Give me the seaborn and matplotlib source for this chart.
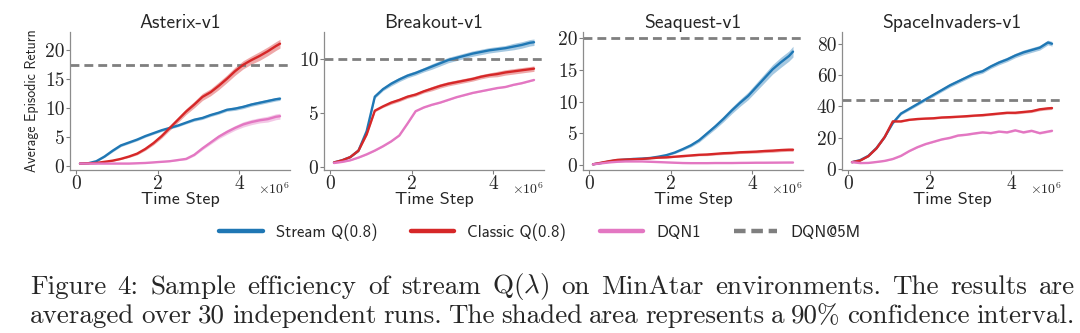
import numpy as np
import pandas as pd
import matplotlib
matplotlib.use("Agg")
import matplotlib.pyplot as plt
import seaborn as sns
from matplotlib.lines import Line2D

# ---------------- data (x in millions of time steps) ----------------
steps = [0.1, 0.3, 0.5, 0.7, 0.9, 1.1, 1.3, 1.5, 1.7, 1.9, 2.1, 2.3, 2.5,
         2.7, 2.9, 3.1, 3.3, 3.5, 3.7, 3.9, 4.1, 4.3, 4.5, 4.7, 4.9, 5.0]

envs = ["Asterix-v1", "Breakout-v1", "Seaquest-v1", "SpaceInvaders-v1"]
methods = ["Stream Q(0.8)", "Classic Q(0.8)", "DQN1"]
dqn_at_5m = [17.3, 10.0, 20.0, 44.0]

asterix_stream = [0.5, 0.55, 0.9, 1.7, 2.7, 3.6, 4.1, 4.6, 5.2, 5.7, 6.2, 6.6, 7.0,
                  7.5, 8.0, 8.3, 8.8, 9.2, 9.7, 9.9, 10.2, 10.6, 10.9, 11.2, 11.5, 11.6]
asterix_classic = [0.5, 0.55, 0.6, 0.8, 1.0, 1.3, 1.7, 2.2, 3.0, 4.0, 5.2, 6.6, 8.0,
                   9.4, 10.6, 11.9, 12.7, 13.8, 15.0, 16.3, 17.4, 18.2, 18.9, 19.7, 20.6, 21.0]
asterix_dqn = [0.5, 0.5, 0.5, 0.5, 0.5, 0.5, 0.5, 0.55, 0.6, 0.7, 0.8, 0.9, 1.1,
               1.3, 2.0, 3.1, 4.1, 5.1, 5.9, 6.6, 7.2, 7.6, 7.9, 8.1, 8.5, 8.6]
asterix_stream_ci = [0.05, 0.05, 0.1, 0.15, 0.2, 0.2, 0.2, 0.2, 0.2, 0.2, 0.2, 0.2, 0.2,
                     0.2, 0.25, 0.25, 0.25, 0.25, 0.25, 0.3, 0.3, 0.3, 0.3, 0.3, 0.3, 0.3]
asterix_classic_ci = [0.05, 0.05, 0.05, 0.1, 0.1, 0.1, 0.15, 0.2, 0.25, 0.3, 0.35, 0.4, 0.45,
                      0.5, 0.55, 0.6, 0.6, 0.65, 0.65, 0.7, 0.7, 0.7, 0.75, 0.75, 0.75, 0.75]
asterix_dqn_ci = [0.05, 0.05, 0.05, 0.05, 0.05, 0.05, 0.05, 0.05, 0.05, 0.05, 0.05, 0.05, 0.1,
                  0.15, 0.2, 0.25, 0.3, 0.35, 0.4, 0.4, 0.45, 0.45, 0.45, 0.5, 0.5, 0.5]

breakout_stream = [0.4, 0.6, 0.9, 1.5, 3.3, 6.5, 7.2, 7.7, 8.1, 8.45, 8.7, 9.0, 9.3,
                   9.6, 9.9, 10.1, 10.3, 10.5, 10.65, 10.8, 10.9, 11.0, 11.15, 11.3, 11.5, 11.55]
breakout_classic = [0.4, 0.6, 0.9, 1.5, 3.0, 5.2, 5.6, 5.95, 6.2, 6.5, 6.7, 7.0, 7.25,
                    7.5, 7.7, 7.85, 8.0, 8.15, 8.35, 8.5, 8.6, 8.75, 8.85, 8.95, 9.05, 9.1]
breakout_dqn = [0.35, 0.45, 0.6, 0.85, 1.15, 1.5, 1.9, 2.35, 2.9, 4.0, 5.15, 5.5, 5.75,
                5.95, 6.2, 6.45, 6.65, 6.85, 7.0, 7.15, 7.3, 7.4, 7.6, 7.75, 7.95, 8.05]
breakout_stream_ci = [0.03, 0.05, 0.05, 0.1, 0.15, 0.15, 0.15, 0.2, 0.2, 0.2, 0.2, 0.2, 0.25,
                      0.25, 0.25, 0.25, 0.25, 0.25, 0.25, 0.25, 0.25, 0.25, 0.3, 0.3, 0.3, 0.3]
breakout_classic_ci = [0.03, 0.05, 0.05, 0.1, 0.1, 0.1, 0.1, 0.15, 0.15, 0.15, 0.15, 0.15, 0.2,
                       0.2, 0.2, 0.2, 0.2, 0.2, 0.2, 0.2, 0.25, 0.25, 0.25, 0.25, 0.25, 0.25]
breakout_dqn_ci = [0.03, 0.03, 0.03, 0.03, 0.05, 0.05, 0.05, 0.05, 0.05, 0.05, 0.05, 0.05, 0.05,
                   0.05, 0.05, 0.05, 0.05, 0.05, 0.05, 0.05, 0.05, 0.05, 0.05, 0.05, 0.05, 0.05]

seaquest_stream = [0.1, 0.3, 0.55, 0.75, 0.85, 0.95, 1.0, 1.1, 1.3, 1.55, 1.95, 2.5, 3.1,
                   3.9, 5.0, 6.1, 7.3, 8.6, 9.8, 10.9, 12.3, 13.7, 15.1, 16.2, 17.2, 17.9]
seaquest_classic = [0.1, 0.35, 0.6, 0.8, 0.85, 0.9, 0.95, 1.05, 1.15, 1.2, 1.3, 1.4, 1.5,
                    1.6, 1.65, 1.75, 1.85, 1.9, 2.0, 2.05, 2.1, 2.2, 2.25, 2.35, 2.4, 2.4]
seaquest_dqn = [0.1, 0.25, 0.4, 0.5, 0.55, 0.55, 0.55, 0.5, 0.45, 0.4, 0.35, 0.3, 0.28,
                0.28, 0.28, 0.3, 0.3, 0.3, 0.32, 0.33, 0.35, 0.35, 0.36, 0.37, 0.38, 0.38]
seaquest_stream_ci = [0.02, 0.05, 0.05, 0.05, 0.05, 0.05, 0.05, 0.08, 0.1, 0.12, 0.15, 0.2, 0.25,
                      0.3, 0.35, 0.4, 0.45, 0.5, 0.55, 0.6, 0.65, 0.7, 0.75, 0.8, 0.8, 0.85]
seaquest_classic_ci = [0.02, 0.05, 0.05, 0.05, 0.05, 0.05, 0.08, 0.1, 0.1, 0.12, 0.12, 0.15, 0.15,
                       0.15, 0.18, 0.18, 0.2, 0.2, 0.2, 0.22, 0.22, 0.25, 0.25, 0.25, 0.25, 0.25]
seaquest_dqn_ci = [0.02, 0.03, 0.03, 0.03, 0.03, 0.03, 0.03, 0.03, 0.03, 0.03, 0.03, 0.03, 0.03,
                   0.03, 0.03, 0.03, 0.03, 0.03, 0.03, 0.03, 0.03, 0.03, 0.03, 0.03, 0.03, 0.03]

spaceinv_stream = [4.5, 5.8, 8.5, 13.5, 20.5, 29.5, 35.5, 38.5, 41.5, 44.5, 47.5, 50.5, 53.5,
                   56.0, 58.5, 61.0, 62.5, 65.5, 68.0, 70.0, 72.5, 74.5, 76.0, 77.5, 80.8, 80.0]
spaceinv_classic = [4.5, 5.5, 8.3, 13.3, 20.5, 30.5, 30.5, 31.5, 32.0, 32.3, 32.5, 33.0, 33.2,
                    33.5, 33.8, 34.2, 34.5, 35.0, 35.5, 36.0, 36.0, 36.5, 37.0, 38.2, 38.8, 39.0]
spaceinv_dqn = [4.5, 3.9, 4.0, 4.6, 5.3, 6.5, 8.5, 11.5, 14.0, 16.0, 17.5, 19.0, 20.0,
                21.5, 22.0, 22.8, 23.5, 23.0, 24.0, 23.5, 24.8, 23.5, 24.5, 23.0, 24.0, 24.5]
spaceinv_stream_ci = [0.2, 0.3, 0.4, 0.5, 0.6, 0.7, 0.8, 0.9, 1.0, 1.0, 1.1, 1.1, 1.2,
                      1.2, 1.2, 1.3, 1.3, 1.3, 1.4, 1.4, 1.4, 1.5, 1.5, 1.5, 1.5, 1.5]
spaceinv_classic_ci = [0.2, 0.3, 0.4, 0.5, 0.5, 0.5, 0.5, 0.5, 0.5, 0.5, 0.5, 0.6, 0.6,
                       0.6, 0.6, 0.6, 0.7, 0.7, 0.7, 0.7, 0.8, 0.8, 0.8, 0.9, 0.9, 0.9]
spaceinv_dqn_ci = [0.2, 0.2, 0.2, 0.2, 0.3, 0.3, 0.3, 0.3, 0.4, 0.4, 0.4, 0.4, 0.5,
                   0.5, 0.5, 0.5, 0.5, 0.5, 0.5, 0.5, 0.6, 0.6, 0.6, 0.6, 0.6, 0.6]

y_ticks = [[0, 5, 10, 15, 20], [0, 5, 10], [0, 5, 10, 15, 20], [0, 20, 40, 60, 80]]
y_limits = [(-0.6, 23.0), (-0.3, 12.5), (-0.8, 21.0), (-0.5, 87.5)]
x_ticks = [0, 2, 4]

caption_lines = [
    "Figure 4:  Sample efficiency of stream Q($\\lambda$) on MinAtar environments.  The results are",
    "averaged over 30 independent runs. The shaded area represents a 90% confidence interval.",
]

means = [
    [asterix_stream, asterix_classic, asterix_dqn],
    [breakout_stream, breakout_classic, breakout_dqn],
    [seaquest_stream, seaquest_classic, seaquest_dqn],
    [spaceinv_stream, spaceinv_classic, spaceinv_dqn],
]
cis = [
    [asterix_stream_ci, asterix_classic_ci, asterix_dqn_ci],
    [breakout_stream_ci, breakout_classic_ci, breakout_dqn_ci],
    [seaquest_stream_ci, seaquest_classic_ci, seaquest_dqn_ci],
    [spaceinv_stream_ci, spaceinv_classic_ci, spaceinv_dqn_ci],
]

colors = {"Stream Q(0.8)": "#1f77b4", "Classic Q(0.8)": "#d62728", "DQN1": "#e377c2"}
gray = "#7f7f7f"

# ---------------- style ----------------
sns.set_theme(style="ticks")
plt.rcParams["mathtext.fontset"] = "cm"
plt.rcParams["axes.unicode_minus"] = False
SANS = ["cmss10", "DejaVu Sans"]
SERIF = ["cmr10", "DejaVu Serif"]

fig = plt.figure(figsize=(10.8, 3.33), dpi=100)
W, H = 1080, 333
lefts = [70, 324, 583, 842]
ax_w, ax_top, ax_bot = 220, 32, 170

for i, env in enumerate(envs):
    ax = fig.add_axes([lefts[i] / W, (H - ax_bot) / H, ax_w / W, (ax_bot - ax_top) / H])
    rows = []
    for m, vals in zip(methods, means[i]):
        for x, v in zip(steps, vals):
            rows.append({"step": x, "ret": v, "method": m})
    df = pd.DataFrame(rows)
    for m, vals, ci in zip(methods, means[i], cis[i]):
        lo = np.array(vals) - np.array(ci)
        hi = np.array(vals) + np.array(ci)
        ax.fill_between(steps, lo, hi, color=colors[m], alpha=0.4, lw=0)
    sns.lineplot(data=df, x="step", y="ret", hue="method", hue_order=methods,
                 palette=colors, lw=1.7, legend=False, ax=ax)
    ax.axhline(dqn_at_5m[i], color=gray, lw=2.0, dashes=(3.2, 1.8), zorder=1)

    ax.set_ylim(*y_limits[i])
    ax.set_yticks(y_ticks[i])
    ax.set_xticks(x_ticks)
    ax.set_xticklabels([str(t) for t in x_ticks], fontfamily=SERIF, fontsize=14)
    ax.set_yticklabels([str(t) for t in y_ticks[i]], fontfamily=SERIF, fontsize=14)
    ax.tick_params(axis="both", length=3, width=0.8, color="0.5", pad=1)
    for s in ["left", "bottom"]:
        ax.spines[s].set_color("0.55")
        ax.spines[s].set_linewidth(0.9)
    sns.despine(ax=ax)
    ax.set_title(env, fontfamily=SANS, fontsize=14, pad=2)
    ax.set_xlabel("Time Step", fontfamily=SANS, fontsize=13, labelpad=-1)
    if i == 0:
        ax.set_ylabel("Average Episodic Return", fontfamily=SANS, fontsize=10, labelpad=4)
    else:
        ax.set_ylabel("")
    ax.text(1.0, -0.14, r"$\times10^{6}$", transform=ax.transAxes, ha="right",
            va="center", fontsize=10)

handles = [Line2D([], [], color=colors[m], lw=3.2) for m in methods]
handles.append(Line2D([], [], color=gray, lw=3.2, dashes=(2.6, 1.3)))
labels = methods + ["DQN@5M"]
fig.legend(handles, labels, loc="center", bbox_to_anchor=(0.5, (H - 232) / H), ncol=4,
           frameon=False, prop={"family": SANS, "size": 12}, handlelength=2.6,
           handletextpad=0.8, columnspacing=2.0)

# ---------------- caption (justified) ----------------
renderer = fig.canvas.get_renderer()
x0, x1 = 30, 1075
for line, ycen in zip(caption_lines, [287, 316]):
    words = line.split()
    texts = [fig.text(0, 1 - ycen / H, w, fontfamily=SERIF, fontsize=19.5, va="center",
                      ha="left") for w in words]
    widths = [t.get_window_extent(renderer).width for t in texts]
    gap = (x1 - x0 - sum(widths)) / (len(words) - 1)
    pos = x0
    for t, w in zip(texts, widths):
        t.set_x(pos / W)
        pos += w + gap

fig.savefig("out.png", dpi=100)
